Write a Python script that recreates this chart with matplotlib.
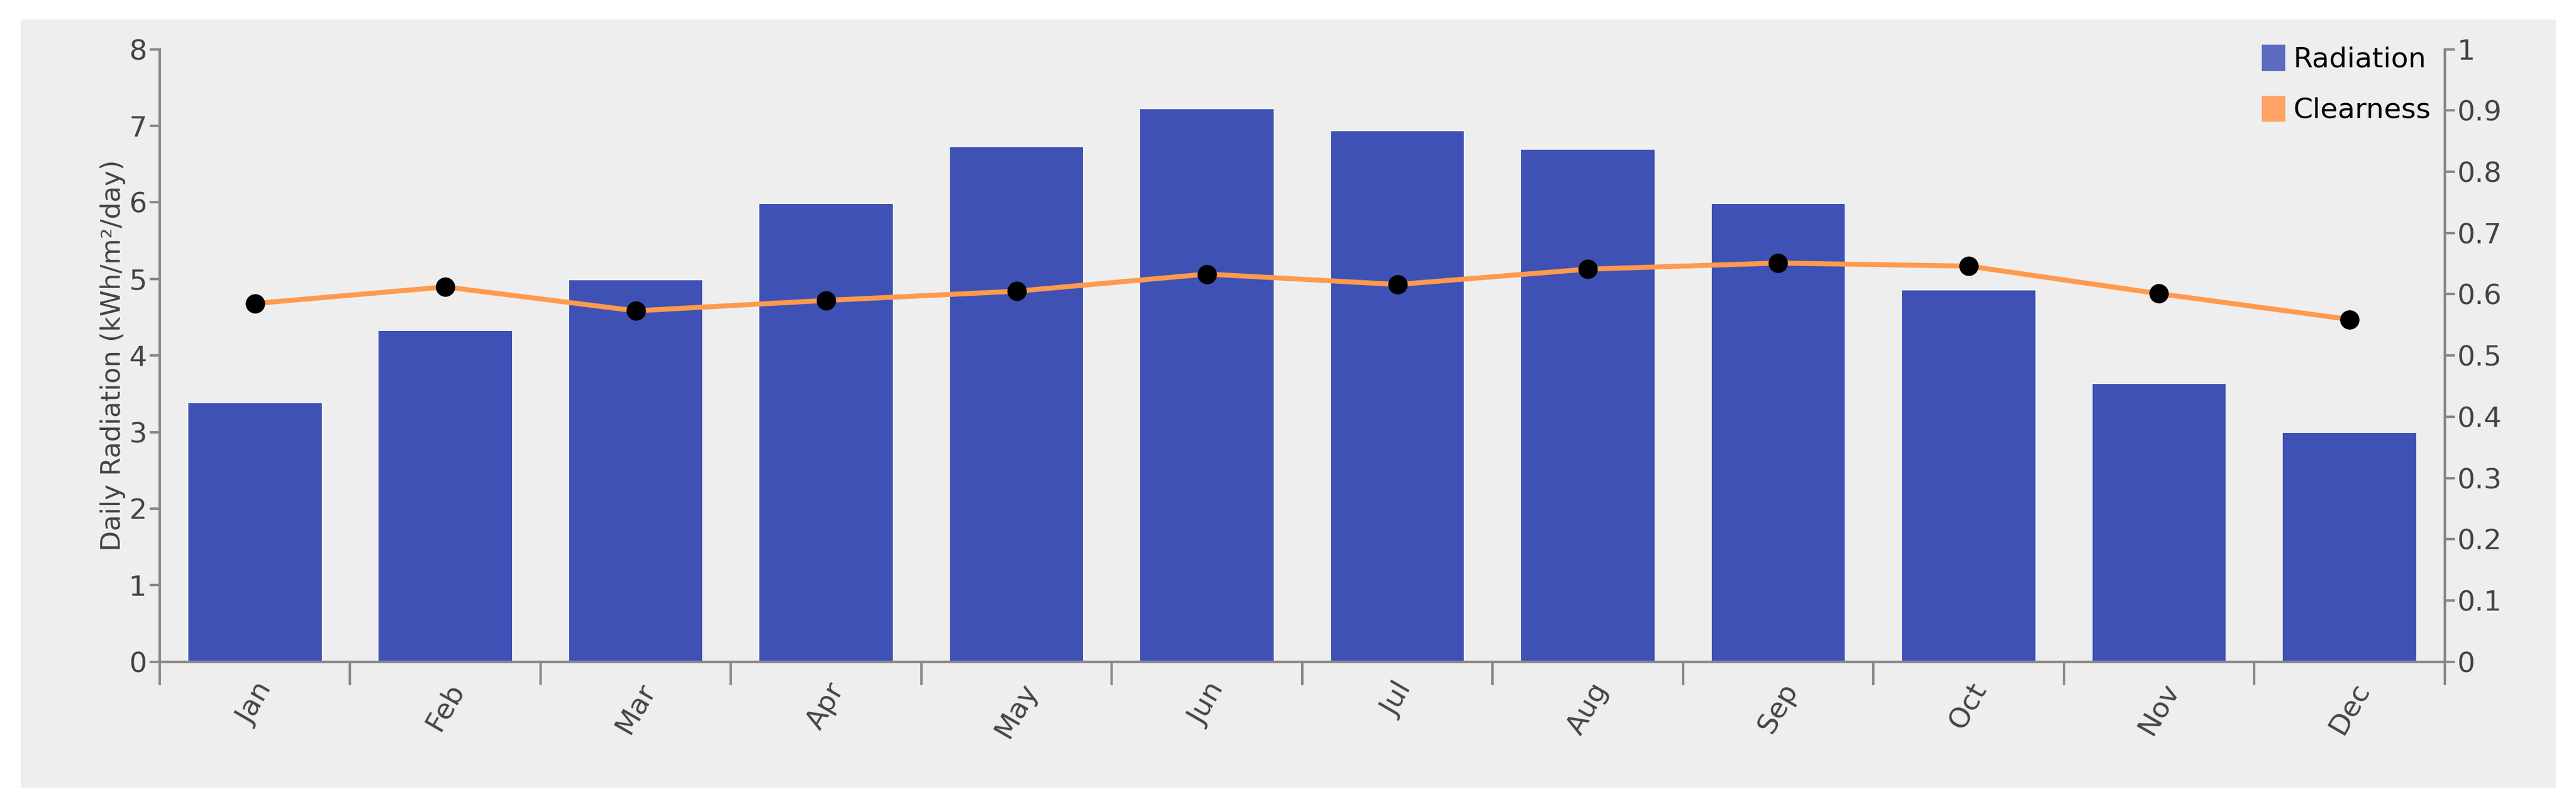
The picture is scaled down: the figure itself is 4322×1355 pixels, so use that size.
import matplotlib.pyplot as plt
from matplotlib.patches import Patch, Rectangle

months = ['Jan', 'Feb', 'Mar', 'Apr', 'May', 'Jun', 'Jul', 'Aug', 'Sep', 'Oct', 'Nov', 'Dec']
radiation = [3.38, 4.32, 4.98, 5.98, 6.72, 7.22, 6.93, 6.69, 5.98, 4.85, 3.63, 2.99]
clearness = [0.585, 0.612, 0.573, 0.590, 0.605, 0.633, 0.616, 0.641, 0.651, 0.646, 0.601, 0.559]

fig = plt.figure(figsize=(43.22, 13.55), dpi=100)
fig.patches.append(Rectangle((0.008, 0.026), 0.984, 0.95, transform=fig.transFigure,
                             color='#eeeeee', zorder=-10))
ax = fig.add_axes([0.062, 0.181, 0.887, 0.758])
ax.set_facecolor('#eeeeee')
grey = '#888888'

x = list(range(len(months)))
ax.bar(x, radiation, width=0.7, color='#3f51b5', zorder=2)
ax.set_xlim(-0.5, 11.5)
ax.set_ylim(0, 8)
ax.set_xticks([i - 0.5 for i in range(13)])
ax.set_xticklabels([])
ax.set_xticks(x, minor=True)
ax.set_xticklabels(months, minor=True, rotation=60, fontsize=34, color='#444444')
ax.tick_params(axis='x', which='minor', length=0, pad=20)
ax.tick_params(axis='x', which='major', length=28, width=3, color=grey)
ax.tick_params(axis='y', length=12, width=3, color=grey, labelsize=34, labelcolor='#444444')
ax.set_ylabel('Daily Radiation (kWh/m²/day)', fontsize=32, color='#444444')
for s in ['top']:
    ax.spines[s].set_visible(False)
for s in ['left', 'right', 'bottom']:
    ax.spines[s].set_color(grey)
    ax.spines[s].set_linewidth(3)

ax2 = ax.twinx()
ax2.plot(x, clearness, color='#ff9a4d', lw=6, zorder=3)
ax2.scatter(x, clearness, color='black', s=500, zorder=4)
ax2.set_ylim(0, 1)
ax2.set_yticks([i / 10 for i in range(11)])
ax2.set_yticklabels(['0', '0.1', '0.2', '0.3', '0.4', '0.5', '0.6', '0.7', '0.8', '0.9', '1'])
ax2.tick_params(axis='y', length=12, width=3, color=grey, labelsize=34, labelcolor='#444444')
ax2.spines['top'].set_visible(False)
for s in ['left', 'right', 'bottom']:
    ax2.spines[s].set_color(grey)
    ax2.spines[s].set_linewidth(3)

handles = [Patch(color='#5c6bc0', label='Radiation'), Patch(color='#ffa366', label='Clearness')]
ax2.legend(handles=handles, loc='upper right', frameon=False, fontsize=34,
           handlelength=0.8, handleheight=1.0, handletextpad=0.3, labelspacing=0.8,
           borderaxespad=0.1, bbox_to_anchor=(1.0, 1.03))

fig.savefig('out.png', dpi=100)
